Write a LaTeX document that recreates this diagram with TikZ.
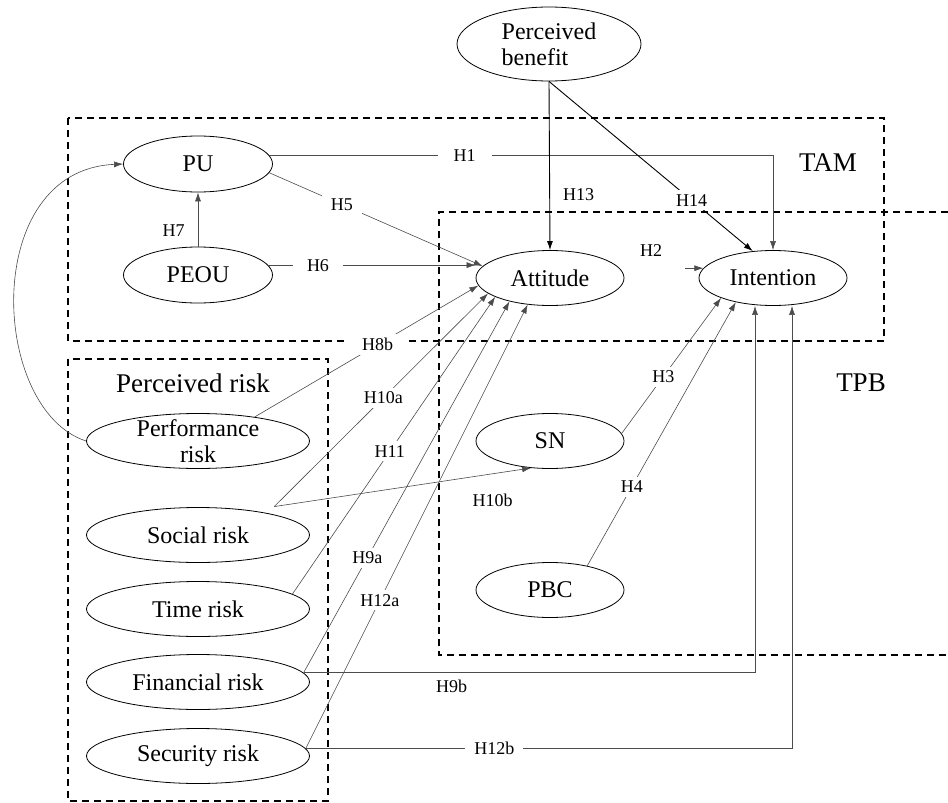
\documentclass[tikz,border=0pt]{standalone}
\usepackage{fontspec}
\setmainfont{Liberation Serif}
\usetikzlibrary{shapes.geometric,arrows.meta}

\begin{document}
\begin{tikzpicture}[x=1pt,y=-1pt,
    construct/.style={ellipse,draw,line width=0.8pt,inner sep=0pt,minimum width=148pt,minimum height=55pt,font=\fontsize{24}{26}\selectfont},
    riskbox/.style={construct,minimum width=223pt},
    modelbox/.style={draw,line width=1.1pt,dash pattern=on 7pt off 5pt},
    grouplabel/.style={font=\fontsize{27}{28}\selectfont},
    link/.style={draw=black!70,line width=0.6pt,-{Latex[length=9pt,width=6pt]}},
    benefit/.style={link,draw=black,line width=0.9pt},
    hyp/.style={fill=white,inner xsep=9pt,inner ysep=4pt,font=\fontsize{18}{18}\selectfont}]
    \useasboundingbox (0,0) rectangle (948,803);

    \draw[modelbox] (68,118) rectangle (884,341);
    \draw[modelbox] (948,212) -- (439,212) -- (439,655) -- (948,655);
    \draw[modelbox] (68,359) rectangle (328,801);
    \node[grouplabel] (tam) at (828,163) {TAM};
    \node[grouplabel] (tpb) at (861,383) {TPB};
    \node[grouplabel] (prisk) at (193,383) {Perceived risk};

    \node[construct,minimum width=184pt,minimum height=74pt,align=left] (PB) at (549,44) {Perceived\\benefit};
    \node[construct,minimum width=149pt,minimum height=56pt] (PU) at (198,164) {PU};
    \node[construct,minimum width=149pt,minimum height=56pt] (PEOU) at (198,275) {PEOU};
    \node[construct] (Attitude) at (550,278) {Attitude};
    \node[construct] (Intention) at (773,278) {Intention};
    \node[construct] (SN) at (550,441) {SN};
    \node[construct] (PBC) at (550,590) {PBC};
    \node[riskbox,align=center,inner ysep=-7pt] (PerfRisk) at (198,441) {Performance\\risk};
    \node[riskbox] (SocialRisk) at (198,535) {Social risk};
    \node[riskbox] (TimeRisk) at (198,609) {Time risk};
    \node[riskbox] (FinRisk) at (198,682) {Financial risk};
    \node[riskbox] (SecRisk) at (198,756) {Security risk};

    % TAM
    \draw[link] (PU.7) -| node[hyp,pos=0.194,inner xsep=16pt] {H1} (Intention.north);
    \draw[link] (PU.-7) -- node[hyp,pos=0.34] {H5} (Attitude.170);
    \draw[link] (PEOU.8) -- node[hyp,pos=0.24,inner xsep=14pt] {H6} (PEOU.8 -| Attitude.west);
    \draw[link] (PEOU.north) -- node[hyp,pos=0.3,left=4pt] {H7} (PU.south);
    \draw[link] ([xshift=-18pt]Intention.172) -- (Intention.172);
    \node[hyp] (h2) at (651,251) {H2};

    % perceived benefit
    \draw[benefit] (PB.south) -- node[hyp,fill=none,pos=0.67,right=4pt] {H13} (Attitude.north);
    \draw[benefit] (PB.south) -- node[hyp,pos=0.7] {H14} (Intention.127);

    % TPB
    \draw[link] (SN.6) -- node[hyp,pos=0.42] {H3} (Intention.201);
    \draw[link] (PBC.33) -- node[hyp,pos=0.3] {H4} (Intention.213);

    % perceived risk
    \draw[link] (PerfRisk.west) .. controls (-10,410) and (-20,170) .. (PU.west);
    \draw[link] (PerfRisk.23) -- node[hyp,pos=0.55,inner xsep=16pt] {H8b} (Attitude.186);
    \coordinate (socialtop) at ([yshift=8pt]SocialRisk.15);
    \draw[link] (socialtop) -- node[hyp,pos=0.51] {H10a} (Attitude.194);
    \draw[link] (socialtop) -- node[hyp,pos=0.85,below=16pt] {H10b} (SN.235);
    \draw[link] (TimeRisk.9) -- node[hyp,pos=0.48] {H11} (Attitude.199);
    \draw[link] (FinRisk.5) -- node[hyp,pos=0.31] {H9a} (Attitude.210);
    \draw[link] (SecRisk.4) -- node[hyp,pos=0.334] {H12a} (Attitude.230);
    \draw[link] (FinRisk.5) -| node[hyp,pos=0.164,below=3pt] {H9b} ([xshift=-18pt]Intention.south);
    \draw[link] (SecRisk.4) -| node[hyp,pos=0.194] {H12b} ([xshift=19pt]Intention.south);
\end{tikzpicture}
\end{document}
